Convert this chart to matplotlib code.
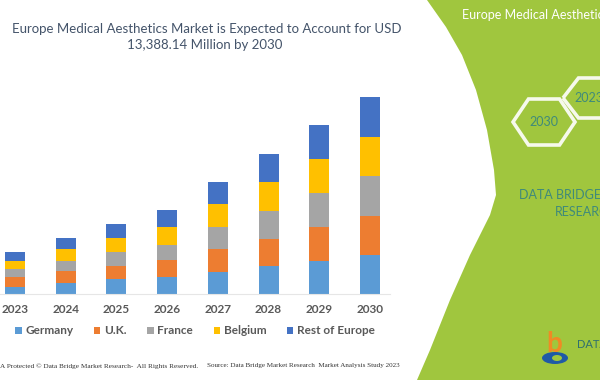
import matplotlib.pyplot as plt
import numpy as np
from matplotlib.patches import Polygon, Ellipse

plt.rcParams["font.family"] = ["Lato", "DejaVu Sans"]

years = ["2023", "2024", "2025", "2026", "2027", "2028", "2029", "2030"]
germany = [497, 749, 1001, 1137, 1518, 1906, 2246, 2655]
uk = [633, 817, 933, 1178, 1545, 1838, 2335, 2675]
france = [565, 701, 905, 1041, 1477, 1926, 2274, 2702]
belgium = [565, 796, 953, 1205, 1566, 1974, 2314, 2675]
rest_of_europe = [592, 728, 973, 1157, 1538, 1886, 2335, 2682]

series = [
    ("Germany", germany, "#5B9BD5"),
    ("U.K.", uk, "#ED7D31"),
    ("France", france, "#A5A5A5"),
    ("Belgium", belgium, "#FFC000"),
    ("Rest of Europe", rest_of_europe, "#4472C4"),
]

W, H = 600, 380
GREEN = "#a0c63e"
TEAL = "#3f8a7a"


def fx(x):
    return x / W


def fy(y):
    return 1 - y / H


fig = plt.figure(figsize=(6, 3.8), dpi=100)
fig.patch.set_facecolor("white")

# green side panel
edge = [(427, 0), (446, 27), (462, 55), (476, 90), (487, 130), (494, 170),
        (496, 195), (490, 215), (470, 255), (450, 300), (430, 350), (417, 380),
        (600, 380), (600, 0)]
fig.patches.append(Polygon([(fx(x), fy(y)) for x, y in edge], closed=True,
                           transform=fig.transFigure, facecolor=GREEN,
                           edgecolor="none", zorder=0))

# bar chart
base_px, top_px = 294, 90
total_2030 = 13388.14
ax = fig.add_axes([fx(0), fy(base_px), fx(390), (base_px - top_px) / H])
ax.set_facecolor("none")
x = np.arange(len(years))
bottom = np.zeros(len(years))
for name, vals, color in series:
    ax.bar(x, vals, width=0.394, bottom=bottom, color=color, label=name, zorder=2)
    bottom += np.array(vals)

step = 355 / 7
ax.set_xlim(-15 / step, 375 / step)
ax.set_ylim(0, total_2030 * (base_px - top_px) / (base_px - 97.3))
ax.set_xticks(x)
ax.set_xticklabels(years, fontsize=8.5, fontweight="bold", color="#595959")
ax.tick_params(axis="x", length=0, pad=7)
ax.set_yticks([])
for s in ["left", "right", "top"]:
    ax.spines[s].set_visible(False)
ax.spines["bottom"].set_color("#e6e6e6")
ax.spines["bottom"].set_linewidth(0.8)

leg = ax.legend(ncol=5, loc="center", bbox_to_anchor=(195 / 390, -37 / (base_px - top_px)),
                frameon=False, handlelength=0.55, handleheight=0.55, handletextpad=0.3,
                columnspacing=1.75, prop={"size": 8.5, "weight": "bold"})
for t in leg.get_texts():
    t.set_color("#595959")

# title
title_color = "#44546a"
fig.text(fx(12), fy(29), "Europe Medical Aesthetics Market is Expected to Account for USD",
         fontsize=9.5, color=title_color, ha="left", va="center")
fig.text(fx(205), fy(45), "13,388.14 Million by 2030",
         fontsize=9.5, color=title_color, ha="center", va="center")

# footer
fig.text(fx(0), fy(366), "A Protected \u00a9 Data Bridge Market Research-  All Rights Reserved.",
         fontsize=5.2, family="Liberation Serif", color="#333333", ha="left", va="center")
fig.text(fx(207), fy(366), "Source: Data Bridge Market Research  Market Analysis Study 2023",
         fontsize=5.1, family="Liberation Serif", color="#333333", ha="left", va="center")

# right panel content (cut at the edge, as in the original banner)
fig.text(fx(462), fy(15), "Europe Medical Aesthetics Market", fontsize=9,
         color="white", ha="left", va="center")


def hexagon(cx, cy, w, h):
    pts = [(cx - w / 2, cy), (cx - w / 4, cy - h / 2), (cx + w / 4, cy - h / 2),
           (cx + w / 2, cy), (cx + w / 4, cy + h / 2), (cx - w / 4, cy + h / 2)]
    return Polygon([(fx(a), fy(b)) for a, b in pts], closed=True,
                   transform=fig.transFigure, facecolor="none",
                   edgecolor="#f6f9ec", linewidth=2.6, zorder=1)


fig.patches.append(hexagon(544, 122, 62, 46))
fig.patches.append(hexagon(594, 98, 62, 40))
fig.text(fx(544), fy(122), "2030", fontsize=9, color=TEAL, ha="center", va="center")
fig.text(fx(589), fy(98), "2023", fontsize=9, color=TEAL, ha="center", va="center")

fig.text(fx(519), fy(195), "DATA BRIDGE MARKET", fontsize=9, color=TEAL,
         ha="left", va="center")
fig.text(fx(555), fy(212), "RESEARCH", fontsize=9, color=TEAL, ha="left", va="center")

# logo
fig.text(fx(554), fy(344), "b", fontsize=20, fontweight="bold", color="#f08a24",
         ha="center", va="center")
fig.patches.append(Ellipse((fx(555), fy(358)), fx(26), 12 / H,
                           transform=fig.transFigure, facecolor="#1f5aa6",
                           edgecolor="none", zorder=2))
fig.patches.append(Ellipse((fx(557), fy(358)), fx(10), 6 / H,
                           transform=fig.transFigure, facecolor=GREEN,
                           edgecolor="none", zorder=3))
fig.text(fx(577), fy(344), "DATA", fontsize=8, color="#2f6f6f", ha="left", va="center")

fig.savefig("out.png", dpi=100)
